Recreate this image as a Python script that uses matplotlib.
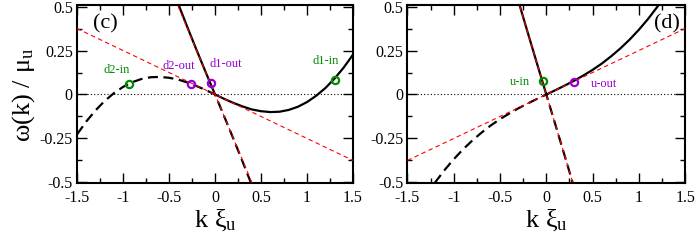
import matplotlib
matplotlib.use("Agg")
import matplotlib.pyplot as plt
from matplotlib.ticker import MultipleLocator, FixedLocator

plt.rcParams['font.family'] = ['Liberation Serif', 'DejaVu Serif']
plt.rcParams['mathtext.fontset'] = 'custom'
plt.rcParams['mathtext.rm'] = 'Liberation Serif'
plt.rcParams['mathtext.it'] = 'Liberation Serif'
plt.rcParams['axes.unicode_minus'] = False

# ---------------- data ----------------
# panel (c): downstream
c_solid_k = [-0.4, -0.3, -0.2, -0.1, 0.0, 0.1, 0.2, 0.3, 0.4, 0.5, 0.6, 0.7,
             0.8, 0.9, 1.0, 1.1, 1.2, 1.3, 1.4, 1.5]
c_solid_w = [0.515, 0.382, 0.252, 0.125, 0.0, -0.025, -0.048, -0.068, -0.085,
             -0.095, -0.100, -0.098, -0.088, -0.070, -0.043, -0.007, 0.037,
             0.091, 0.154, 0.227]
c_dash_k = [-1.5, -1.4, -1.3, -1.2, -1.1, -1.0, -0.9, -0.8, -0.7, -0.6, -0.5,
            -0.4, -0.3, -0.2, -0.1, 0.0, 0.1, 0.2, 0.3, 0.4]
c_dash_w = [-0.227, -0.154, -0.091, -0.037, 0.007, 0.043, 0.070, 0.088, 0.098,
            0.100, 0.095, 0.085, 0.068, 0.048, 0.025, 0.0, -0.125, -0.252,
            -0.382, -0.515]
c_red1_k = [-1.5, 1.5]
c_red1_w = [0.375, -0.375]
c_red2_k = [-0.6, 0.6]
c_red2_w = [0.75, -0.75]
c_in_k = [-0.94, 1.30]
c_in_w = [0.062, 0.085]
c_out_k = [-0.26, -0.045]
c_out_w = [0.057, 0.068]
c_labels = ["d2-in", "d2-out", "d1-out", "d1-in"]
c_label_k = [-1.07, -0.39, 0.12, 1.20]
c_label_w = [0.14, 0.163, 0.174, 0.19]
c_label_col = ["green", "violet", "violet", "green"]

# panel (d): upstream
d_solid_k = [-0.3, -0.2, -0.1, 0.0, 0.1, 0.2, 0.3, 0.4, 0.5, 0.6, 0.7, 0.8,
             0.9, 1.0, 1.1, 1.2, 1.3]
d_solid_w = [0.528, 0.351, 0.175, 0.0, 0.025, 0.051, 0.078, 0.108, 0.140,
             0.176, 0.217, 0.262, 0.312, 0.368, 0.430, 0.499, 0.576]
d_dash_k = [-1.3, -1.2, -1.1, -1.0, -0.9, -0.8, -0.7, -0.6, -0.5, -0.4, -0.3,
            -0.2, -0.1, 0.0, 0.1, 0.2, 0.3]
d_dash_w = [-0.576, -0.499, -0.430, -0.368, -0.312, -0.262, -0.217, -0.176,
            -0.140, -0.108, -0.078, -0.051, -0.025, 0.0, -0.175, -0.351, -0.528]
d_red1_k = [-1.5, 1.5]
d_red1_w = [-0.375, 0.375]
d_red2_k = [-0.4, 0.4]
d_red2_w = [0.7, -0.7]
d_in_k = [-0.04]
d_in_w = [0.075]
d_out_k = [0.30]
d_out_w = [0.071]
d_labels = ["u-in", "u-out"]
d_label_k = [-0.29, 0.62]
d_label_w = [0.069, 0.062]
d_label_col = ["green", "violet"]

xticks = [-1.5, -1, -0.5, 0, 0.5, 1, 1.5]
xticklabels = ["-1.5", "-1", "-0.5", "0", "0.5", "1", "1.5"]
yticks = [-0.5, -0.25, 0, 0.25, 0.5]
yticklabels = ["-0.5", "-0.25", "0", "0.25", "0.5"]

# ---------------- styling ----------------
GREEN = (0 / 255, 139 / 255, 0)
VIOLET = (148 / 255, 0, 211 / 255)
colmap = {"green": GREEN, "violet": VIOLET}

fig = plt.figure(figsize=(6.97, 2.43), dpi=100)
ax_c = fig.add_axes([0.1105, 0.2449, 0.396, 0.7325])
ax_d = fig.add_axes([0.5846, 0.2449, 0.3984, 0.7325])


def draw(ax, sk, sw, dk, dw, r1k, r1w, r2k, r2w, ik, iw, ok, ow,
         labels, lk, lw, lc, tag, tagx):
    ax.axhline(0, color='black', lw=0.8, ls=(0, (1, 2)), zorder=1)
    ax.plot(sk, sw, color='black', lw=1.6, solid_capstyle='butt', zorder=2)
    ax.plot(dk, dw, color='black', lw=1.6, dashes=(4.5, 2.5), zorder=2)
    ax.plot(r1k, r1w, color='red', lw=0.8, dashes=(4, 3), zorder=3)
    ax.plot(r2k, r2w, color='red', lw=0.8, dashes=(4, 3), zorder=3)
    ax.plot(ik, iw, ls='none', marker='o', ms=5.2, mfc='none', mec=GREEN,
            mew=1.6, zorder=4)
    ax.plot(ok, ow, ls='none', marker='o', ms=5.2, mfc='none', mec=VIOLET,
            mew=1.6, zorder=4)
    for t, x, y, c in zip(labels, lk, lw, lc):
        ax.text(x, y, t, color=colmap[c], fontsize=9, ha='center', va='center')
    ax.text(tagx, 0.4, tag, fontsize=16, ha='center', va='center')
    ax.set_xlim(-1.5, 1.5)
    ax.set_ylim(-0.506, 0.506)
    ax.xaxis.set_major_locator(FixedLocator(xticks))
    ax.set_xticklabels(xticklabels)
    ax.yaxis.set_major_locator(FixedLocator(yticks))
    ax.set_yticklabels(yticklabels)
    ax.xaxis.set_minor_locator(MultipleLocator(0.25))
    ax.yaxis.set_minor_locator(MultipleLocator(0.125))
    ax.tick_params(which='both', direction='in', top=True, right=True,
                   labelsize=11.5, width=1.0)
    ax.tick_params(axis='x', which='major', pad=5)
    ax.tick_params(axis='y', which='major', pad=3)
    ax.tick_params(which='major', length=7)
    ax.tick_params(which='minor', length=3.5)
    for s in ax.spines.values():
        s.set_linewidth(1.5)
    ax.set_xlabel(r'$\mathrm{k\ \xi_u}$', fontsize=19, labelpad=1)


draw(ax_c, c_solid_k, c_solid_w, c_dash_k, c_dash_w, c_red1_k, c_red1_w,
     c_red2_k, c_red2_w, c_in_k, c_in_w, c_out_k, c_out_w,
     c_labels, c_label_k, c_label_w, c_label_col, "(c)", -1.19)
draw(ax_d, d_solid_k, d_solid_w, d_dash_k, d_dash_w, d_red1_k, d_red1_w,
     d_red2_k, d_red2_w, d_in_k, d_in_w, d_out_k, d_out_w,
     d_labels, d_label_k, d_label_w, d_label_col, "(d)", 1.3)

ax_c.set_ylabel(r'$\mathrm{\omega(k)\ /\ \mu_u}$', fontsize=19, labelpad=2)

fig.savefig("out.png", dpi=100)
